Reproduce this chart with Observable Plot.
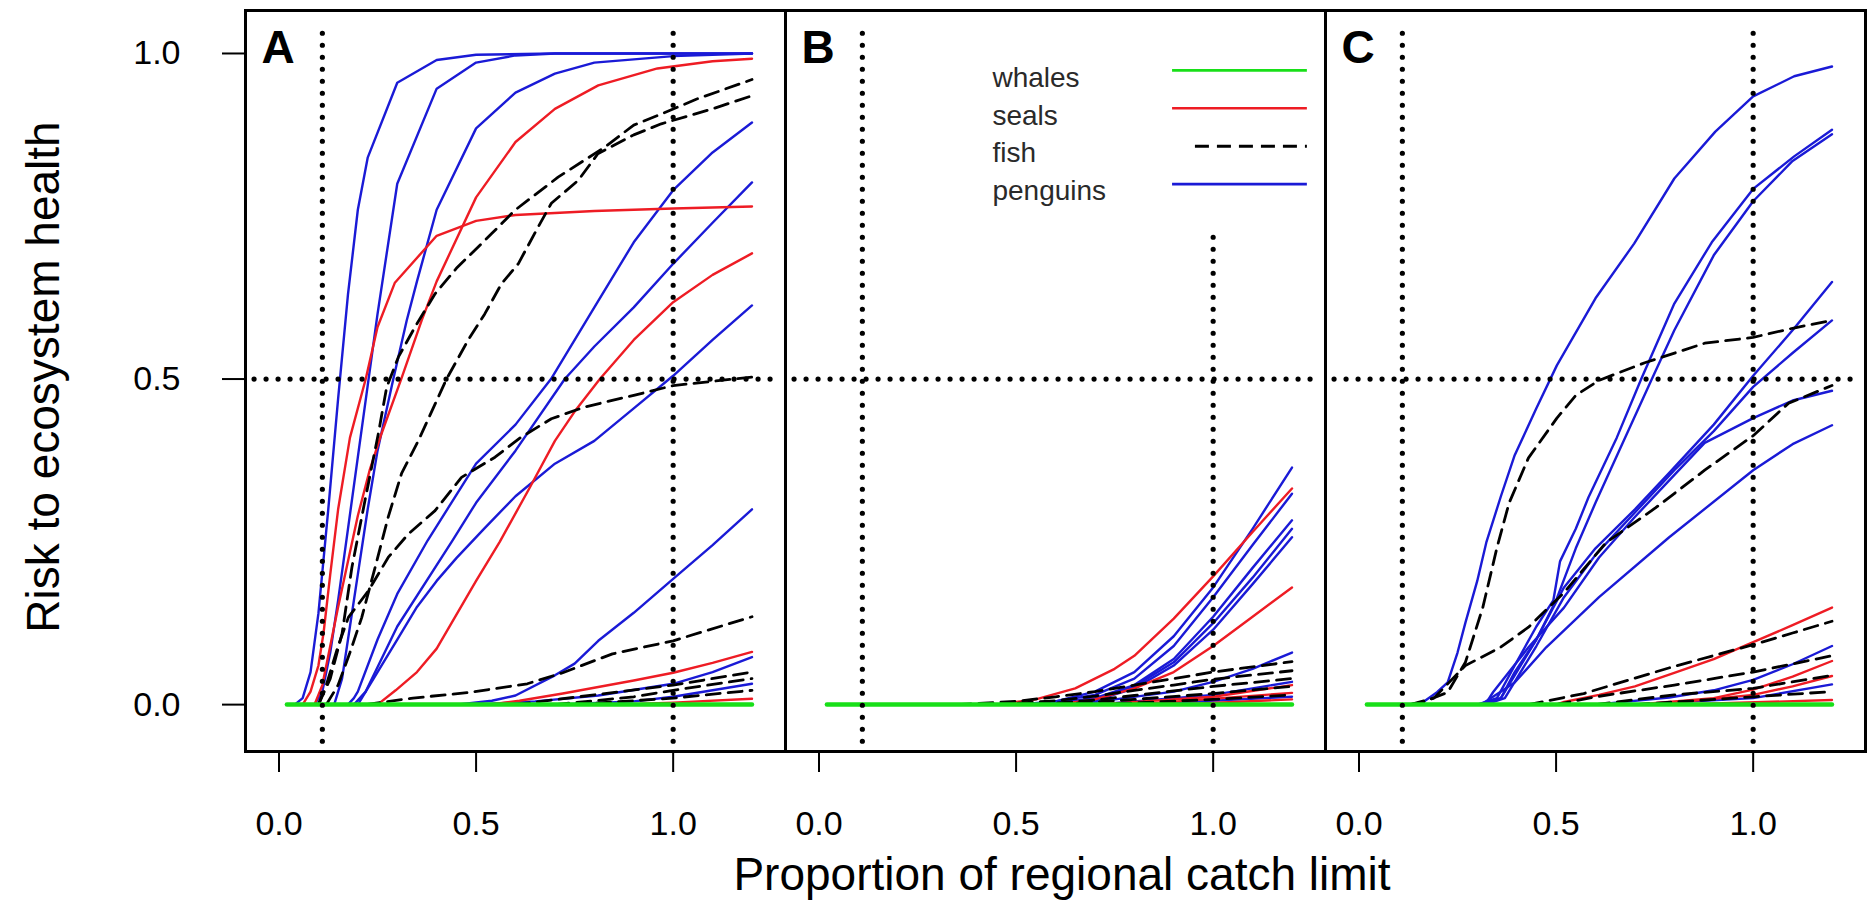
<!DOCTYPE html>
<html><head><meta charset="utf-8">
<script src="https://cdn.jsdelivr.net/npm/d3@7"></script>
<script src="https://cdn.jsdelivr.net/npm/@observablehq/plot@0.6"></script>
<style>body{margin:0;background:#fff} svg{display:block}</style>
</head><body><div id="chart"></div>
<script>
// ---------- data ----------
const panels = ["A", "B", "C"];
const species = ["whales", "seals", "fish", "penguins"];
const speciesColors = ["#18df18", "#ee1c24", "#000000", "#1a1ad6"];
const xTicks = [0, 0.5, 1.0];
const yTicks = [0, 0.5, 1.0];
const refX = [0.11, 1.0];
const refY = [0.5];

// Panel A
const panelA_whales = [[[0.02,0],[1.2,0]]];
const panelA_seals = [
  [[0.09,0],[0.11,0.03],[0.13,0.09],[0.15,0.15],[0.175,0.22],[0.2,0.29],[0.23,0.36],[0.26,0.416],[0.31,0.5],[0.362,0.59],[0.4,0.65],[0.5,0.779],[0.6,0.864],[0.7,0.915],[0.81,0.951],[0.96,0.977],[1.1,0.988],[1.2,0.992]],
  [[0.06,0],[0.08,0.02],[0.1,0.06],[0.113,0.11],[0.13,0.2],[0.15,0.3],[0.18,0.41],[0.22,0.5],[0.25,0.58],[0.294,0.648],[0.4,0.72],[0.5,0.743],[0.6,0.752],[0.8,0.758],[1.0,0.762],[1.2,0.765]],
  [[0.25,0],[0.296,0.022],[0.35,0.05],[0.4,0.086],[0.476,0.165],[0.5,0.19],[0.56,0.25],[0.636,0.333],[0.7,0.405],[0.75,0.45],[0.814,0.5],[0.9,0.56],[1.0,0.618],[1.1,0.66],[1.2,0.693]],
  [[0.53,0],[0.61,0.006],[0.72,0.017],[0.9,0.037],[1.0,0.049],[1.1,0.064],[1.2,0.081]],
  [[0.85,0],[1.0,0.003],[1.2,0.009]]
];
const panelA_fish = [
  [[0.1,0],[0.13,0.04],[0.16,0.109],[0.185,0.211],[0.218,0.313],[0.252,0.416],[0.273,0.487],[0.303,0.534],[0.345,0.58],[0.396,0.631],[0.45,0.67],[0.539,0.723],[0.598,0.759],[0.708,0.81],[0.826,0.856],[0.9,0.89],[0.97,0.907],[1.06,0.93],[1.2,0.96]],
  [[0.12,0],[0.15,0.03],[0.18,0.08],[0.21,0.134],[0.244,0.211],[0.277,0.288],[0.311,0.355],[0.354,0.406],[0.425,0.5],[0.48,0.56],[0.522,0.6],[0.564,0.646],[0.607,0.677],[0.657,0.733],[0.691,0.77],[0.759,0.805],[0.809,0.846],[0.9,0.875],[0.97,0.892],[1.1,0.915],[1.2,0.935]],
  [[0.1,0],[0.12,0.03],[0.15,0.09],[0.176,0.134],[0.227,0.175],[0.277,0.226],[0.328,0.262],[0.396,0.298],[0.463,0.349],[0.548,0.38],[0.615,0.411],[0.691,0.439],[0.775,0.457],[0.9,0.475],[1.0,0.49],[1.2,0.503]],
  [[0.22,0],[0.34,0.01],[0.486,0.019],[0.63,0.032],[0.72,0.049],[0.846,0.078],[1.0,0.098],[1.2,0.135]],
  [[0.6,0],[0.8,0.015],[1.0,0.03],[1.2,0.05]],
  [[0.7,0],[0.9,0.012],[1.0,0.022],[1.2,0.04]],
  [[0.75,0],[1.0,0.01],[1.2,0.022]]
];
const panelA_penguins = [
  [[0.04,0],[0.06,0.01],[0.08,0.05],[0.1,0.14],[0.125,0.3],[0.15,0.47],[0.175,0.63],[0.2,0.76],[0.225,0.84],[0.3,0.955],[0.4,0.99],[0.5,0.998],[0.7,1],[1.2,1]],
  [[0.09,0],[0.11,0.02],[0.13,0.08],[0.15,0.16],[0.175,0.27],[0.2,0.38],[0.225,0.49],[0.25,0.6],[0.3,0.8],[0.4,0.946],[0.5,0.986],[0.6,0.997],[0.7,1],[1.2,1]],
  [[0.14,0],[0.16,0.04],[0.18,0.12],[0.2,0.2],[0.225,0.3],[0.25,0.39],[0.29,0.5],[0.324,0.59],[0.35,0.65],[0.4,0.76],[0.5,0.885],[0.6,0.94],[0.7,0.969],[0.8,0.986],[1.0,0.996],[1.2,1]],
  [[0.175,0],[0.19,0.01],[0.2,0.02],[0.25,0.1],[0.3,0.17],[0.377,0.252],[0.5,0.37],[0.6,0.43],[0.69,0.5],[0.8,0.61],[0.9,0.71],[1.0,0.79],[1.1,0.848],[1.2,0.894]],
  [[0.19,0],[0.22,0.02],[0.3,0.12],[0.44,0.252],[0.5,0.31],[0.6,0.39],[0.725,0.5],[0.8,0.55],[0.9,0.61],[1.0,0.677],[1.1,0.74],[1.2,0.802]],
  [[0.2,0],[0.25,0.05],[0.3,0.1],[0.35,0.15],[0.4,0.19],[0.45,0.225],[0.52,0.27],[0.6,0.32],[0.7,0.37],[0.8,0.405],[0.9,0.455],[1.0,0.505],[1.1,0.56],[1.2,0.613]],
  [[0.45,0],[0.54,0.006],[0.6,0.014],[0.7,0.045],[0.75,0.063],[0.81,0.098],[0.9,0.141],[1.0,0.193],[1.1,0.245],[1.2,0.3]],
  [[0.5,0],[0.65,0.005],[0.81,0.014],[1.0,0.032],[1.1,0.05],[1.2,0.073]],
  [[0.7,0],[0.9,0.005],[1.0,0.012],[1.2,0.032]]
];

// Panel B
const panelB_whales = [[[0.02,0],[1.2,0]]];
const panelB_seals = [
  [[0.45,0],[0.55,0.008],[0.65,0.025],[0.75,0.055],[0.8,0.075],[0.9,0.132],[1.0,0.197],[1.1,0.265],[1.2,0.332]],
  [[0.6,0],[0.7,0.008],[0.8,0.025],[0.9,0.05],[1.0,0.09],[1.1,0.135],[1.2,0.18]],
  [[0.7,0],[1.0,0.012],[1.2,0.03]],
  [[0.8,0],[1.2,0.018]],
  [[0.9,0],[1.2,0.008]]
];
const panelB_fish = [
  [[0.35,0],[0.5,0.005],[0.6,0.012],[0.7,0.02],[0.8,0.03],[0.9,0.04],[1.0,0.05],[1.1,0.058],[1.2,0.066]],
  [[0.45,0],[0.6,0.006],[0.7,0.013],[0.8,0.022],[0.9,0.03],[1.0,0.039],[1.2,0.052]],
  [[0.55,0],[0.7,0.007],[0.8,0.014],[0.9,0.021],[1.0,0.028],[1.2,0.04]],
  [[0.6,0],[0.8,0.008],[1.0,0.017],[1.2,0.028]],
  [[0.7,0],[1.0,0.008],[1.2,0.015]]
];
const panelB_penguins = [
  [[0.5,0],[0.6,0.005],[0.7,0.02],[0.8,0.05],[0.9,0.105],[1.0,0.18],[1.1,0.27],[1.2,0.364]],
  [[0.55,0],[0.7,0.015],[0.8,0.04],[0.9,0.09],[1.0,0.165],[1.1,0.245],[1.2,0.324]],
  [[0.55,0],[0.7,0.01],[0.8,0.03],[0.9,0.07],[1.0,0.135],[1.1,0.21],[1.2,0.283]],
  [[0.6,0],[0.7,0.008],[0.8,0.028],[0.9,0.065],[1.0,0.125],[1.1,0.195],[1.2,0.27]],
  [[0.6,0],[0.7,0.006],[0.8,0.025],[0.9,0.06],[1.0,0.115],[1.1,0.185],[1.2,0.257]],
  [[0.65,0],[0.9,0.02],[1.0,0.035],[1.1,0.055],[1.2,0.08]],
  [[0.7,0],[1.0,0.015],[1.2,0.035]],
  [[0.8,0],[1.2,0.012]]
];

// Panel C
const panelC_whales = [[[0.02,0],[1.2,0]]];
const panelC_seals = [
  [[0.5,0],[0.52,0.004],[0.609,0.015],[0.7,0.028],[0.787,0.046],[0.9,0.07],[1.0,0.096],[1.1,0.122],[1.2,0.149]],
  [[0.7,0],[0.9,0.01],[1.0,0.023],[1.1,0.043],[1.2,0.067]],
  [[0.75,0],[1.0,0.015],[1.1,0.028],[1.2,0.044]],
  [[0.8,0],[1.2,0.007]]
];
const panelC_fish = [
  [[0.13,0],[0.163,0.004],[0.225,0.019],[0.27,0.065],[0.314,0.149],[0.35,0.241],[0.381,0.31],[0.43,0.379],[0.502,0.44],[0.55,0.475],[0.609,0.498],[0.725,0.525],[0.877,0.555],[1.0,0.564],[1.1,0.578],[1.2,0.59]],
  [[0.13,0],[0.19,0.01],[0.27,0.06],[0.359,0.088],[0.43,0.119],[0.52,0.172],[0.627,0.249],[0.752,0.302],[0.877,0.36],[1.0,0.413],[1.09,0.463],[1.2,0.49]],
  [[0.43,0],[0.57,0.017],[0.79,0.057],[1.0,0.092],[1.1,0.11],[1.2,0.128]],
  [[0.5,0],[0.6,0.012],[0.8,0.03],[1.0,0.05],[1.2,0.075]],
  [[0.6,0],[0.8,0.015],[1.0,0.025],[1.2,0.045]],
  [[0.7,0],[1.0,0.012],[1.2,0.02]]
];
const panelC_penguins = [
  [[0.127,0],[0.163,0.004],[0.198,0.019],[0.225,0.034],[0.25,0.08],[0.27,0.126],[0.3,0.19],[0.323,0.249],[0.36,0.32],[0.395,0.383],[0.45,0.455],[0.502,0.521],[0.6,0.624],[0.698,0.708],[0.8,0.808],[0.904,0.88],[1.0,0.934],[1.104,0.965],[1.2,0.98]],
  [[0.3,0],[0.35,0.01],[0.395,0.06],[0.45,0.12],[0.493,0.16],[0.51,0.22],[0.55,0.27],[0.582,0.318],[0.654,0.41],[0.716,0.5],[0.8,0.616],[0.895,0.71],[1.0,0.792],[1.104,0.842],[1.2,0.883]],
  [[0.31,0],[0.36,0.01],[0.4,0.05],[0.45,0.1],[0.5,0.16],[0.55,0.24],[0.6,0.31],[0.66,0.39],[0.743,0.5],[0.8,0.575],[0.9,0.69],[1.0,0.773],[1.1,0.835],[1.2,0.876]],
  [[0.31,0],[0.36,0.01],[0.395,0.05],[0.45,0.1],[0.52,0.18],[0.6,0.24],[0.7,0.3],[0.787,0.356],[0.9,0.43],[1.0,0.505],[1.1,0.575],[1.2,0.649]],
  [[0.32,0],[0.37,0.01],[0.4,0.04],[0.45,0.09],[0.52,0.165],[0.6,0.23],[0.7,0.295],[0.8,0.36],[0.9,0.42],[1.0,0.488],[1.1,0.54],[1.2,0.59]],
  [[0.32,0],[0.34,0.019],[0.43,0.088],[0.52,0.149],[0.609,0.226],[0.698,0.287],[0.805,0.356],[0.877,0.402],[1.0,0.44],[1.1,0.467],[1.2,0.482]],
  [[0.31,0],[0.395,0.034],[0.475,0.088],[0.609,0.165],[0.787,0.257],[1.0,0.36],[1.1,0.4],[1.2,0.429]],
  [[0.6,0],[0.787,0.011],[0.9,0.022],[1.0,0.038],[1.1,0.062],[1.2,0.09]],
  [[0.7,0],[1.0,0.01],[1.2,0.031]]
];

// ---------- assemble ----------
const curveSets = {
  A: {whales: panelA_whales, seals: panelA_seals, fish: panelA_fish, penguins: panelA_penguins},
  B: {whales: panelB_whales, seals: panelB_seals, fish: panelB_fish, penguins: panelB_penguins},
  C: {whales: panelC_whales, seals: panelC_seals, fish: panelC_fish, penguins: panelC_penguins}
};
const rows = [];
for (const p of panels) for (const s of species) curveSets[p][s].forEach((curve, i) => {
  for (const [x, y] of curve) rows.push({panel: p, species: s, id: `${p}-${s}-${i}`, x, y});
});
const color = Object.fromEntries(species.map((s, i) => [s, speciesColors[i]]));
const bySpecies = s => rows.filter(d => d.species === s);

// reference lines (dotted)
const vRefRows = [];
for (const p of panels) for (const x of refX) {
  vRefRows.push({panel: p, x, y1: -0.057, y2: (p === "B" && x === 1.0) ? 0.725 : 1.047});
}
const hRefRows = panels.flatMap(p => refY.map(y => ({panel: p, y})));

// legend (panel B)
const legendRows = species.map((s, i) => ({
  panel: "B", label: s, color: speciesColors[i], dashed: s === "fish",
  ty: 0.962 - i * 0.0575, ly: 0.974 - i * 0.0582
}));

const font = "'Liberation Sans', Arial, Helvetica, sans-serif";
const fmt = d => d.toFixed(1);
const dotted = {stroke: "black", strokeWidth: 5.2, strokeDasharray: "0,12", strokeLinecap: "round"};

const chart = Plot.plot({
  width: 1870,
  height: 901,
  marginTop: 10,
  marginBottom: 150,
  marginLeft: 244,
  marginRight: 4,
  style: {fontFamily: font, background: "white", color: "black"},
  fx: {domain: panels, padding: 0, axis: null, label: null},
  x: {domain: [-0.085, 1.285]},
  y: {domain: [-0.072, 1.066]},
  marks: [
    Plot.line(bySpecies("penguins"), {x: "x", y: "y", z: "id", fx: "panel", stroke: color.penguins, strokeWidth: 2.4}),
    Plot.line(bySpecies("seals"), {x: "x", y: "y", z: "id", fx: "panel", stroke: color.seals, strokeWidth: 2.4}),
    Plot.line(bySpecies("fish"), {x: "x", y: "y", z: "id", fx: "panel", stroke: color.fish, strokeWidth: 2.8, strokeDasharray: "14,8"}),
    Plot.line(bySpecies("whales"), {x: "x", y: "y", z: "id", fx: "panel", stroke: color.whales, strokeWidth: 4.5}),
    Plot.ruleX(vRefRows, {x: "x", y1: "y1", y2: "y2", fx: "panel", ...dotted}),
    Plot.ruleY(hRefRows, {y: "y", x1: -0.062, x2: 1.27, fx: "panel", ...dotted}),
    // legend
    Plot.text(legendRows, {fx: "panel", x: 0.44, y: "ty", text: "label", textAnchor: "start", fontSize: 28, fill: "#2a2a2a"}),
    Plot.ruleY(legendRows.filter(d => !d.dashed), {fx: "panel", y: "ly", x1: 0.897, x2: 1.239, stroke: "color", strokeWidth: 2.6}),
    Plot.ruleY(legendRows.filter(d => d.dashed), {fx: "panel", y: "ly", x1: 0.955, x2: 1.239, stroke: "color", strokeWidth: 3, strokeDasharray: "14,8"}),
    // panel letters
    Plot.text(panels, {fx: d => d, text: d => d, frameAnchor: "top-left", textAnchor: "start", lineAnchor: "top", dx: 16, dy: 20, fontSize: 46, fontWeight: "bold", fill: "black"}),
    Plot.frame({stroke: "black", strokeWidth: 3}),
    Plot.axisX({ticks: xTicks, tickFormat: fmt, tickSize: 21, tickPadding: 38, fontSize: 34, label: null, strokeWidth: 2, facetAnchor: "bottom"}),
    Plot.axisY({ticks: yTicks, tickFormat: fmt, tickSize: 23, tickPadding: 42, fontSize: 34, label: null, strokeWidth: 2, facetAnchor: "left"})
  ]
});

// axis titles
const svg = d3.select(chart);
svg.append("text")
  .attr("x", 1062).attr("y", 890)
  .attr("text-anchor", "middle")
  .attr("font-family", font).attr("font-size", 46).attr("fill", "black")
  .text("Proportion of regional catch limit");
svg.append("text")
  .attr("transform", "translate(59,377) rotate(-90)")
  .attr("text-anchor", "middle")
  .attr("font-family", font).attr("font-size", 46).attr("fill", "black")
  .text("Risk to ecosystem health");

document.getElementById("chart").append(chart);
</script>
</body></html>
